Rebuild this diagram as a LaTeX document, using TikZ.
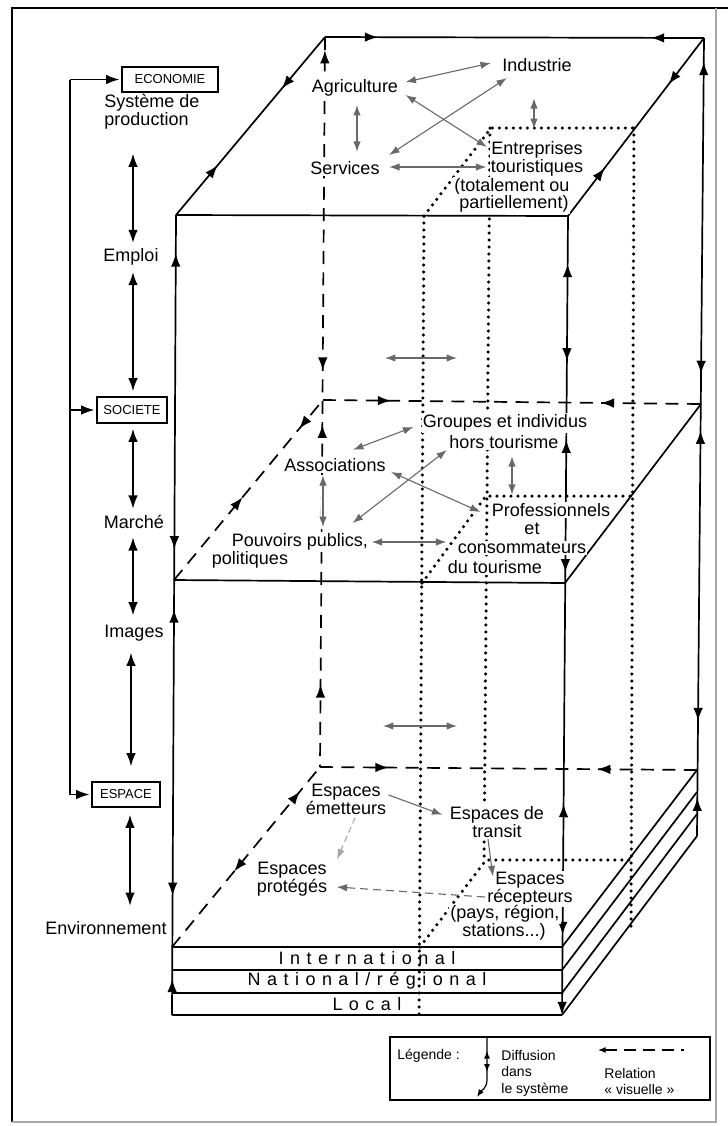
\documentclass[tikz,border=0pt]{standalone}
\usepackage{fontspec}
\setmainfont{Liberation Sans}
\newfontfamily\spaced[LetterSpace=36]{Liberation Sans}
\usetikzlibrary{arrows.meta,decorations.markings,calc}
\definecolor{arrgray}{RGB}{105,105,105}
\tikzset{
  bk/.tip={Latex[length=6.6pt,width=4.8pt]},
  gt/.tip={Latex[length=5.2pt,width=3.7pt]},
  sk/.tip={Latex[length=3.8pt,width=3pt]},
  ln/.style={line width=0.85pt, draw=black},
  dsh/.style={ln, dash pattern=on 6.5pt off 4.2pt},
  dotln/.style={line width=1.75pt, dash pattern=on 0pt off 3.5pt, line cap=round},
  am/.style={postaction={decorate,decoration={markings,mark=at position #1 with {\arrow{Latex[length=6.6pt,width=4.8pt]}}}}},
  ar/.style={postaction={decorate,decoration={markings,mark=at position #1 with {\arrowreversed{Latex[length=6.6pt,width=4.8pt]}}}}},
  lbl/.style={fill=white, inner sep=0.6pt, align=center, font=\fontsize{9}{9}\selectfont},
  lay/.style={inner sep=0pt, font=\spaced\fontsize{9}{9}\selectfont},
  capbox/.style={draw, line width=0.7pt, inner sep=0pt, fill=white, font=\fontsize{6.5}{7}\selectfont},
  garr/.style={draw=arrgray, line width=0.55pt, arrows={gt-gt}},
  sarr/.style={draw=arrgray, line width=0.55pt, arrows={-gt}},
  dbl/.style={ln, arrows={bk-bk}},
  legtxt/.style={inner sep=0.5pt, font=\fontsize{7}{8.2}\selectfont},
}
\begin{document}
\begin{tikzpicture}[x=0.5pt,y=-0.5pt]
\useasboundingbox (0,0) rectangle (728,1126);
\fill[white] (0,0) rectangle (728,1126);
% frame
\draw[line width=1.1pt] (12,1122) -- (12,8) -- (728,8);
\draw[line width=0.6pt, black!35] (716,8) -- (716,1122) -- (12,1122);

% cube corners
\coordinate (F1) at (176,215); \coordinate (F2) at (568,216);
\coordinate (B1) at (325,37);  \coordinate (B2) at (704,38);
\coordinate (M1) at (174,580); \coordinate (M2) at (565,583);
\coordinate (M3) at (323,400); \coordinate (M4) at (701,404);
\coordinate (L1) at (172,947); \coordinate (L2) at (562,947);
\coordinate (L3) at (320,767); \coordinate (L4) at (697,770);
\coordinate (FLb) at (172,1015); \coordinate (FRb) at (562,1015);
\coordinate (BRb) at (697,836);

% dotted tourism column
\draw[dotln] (424,216) -- (491,128) -- (634,128);
\draw[dotln] (422,583) -- (486,496) -- (631,496);
\draw[dotln] (420,947) -- (486,860) -- (629,860);
\draw[dotln] (424,216) -- (419,1017);
\draw[dotln] (490,128) -- (484,860);
\draw[dotln] (634,128) -- (631,926);

% top plane
\draw[ln,am=0.14,ar=0.86] (B1) -- (B2);
\draw[ln,am=0.28,ar=0.71] (F1) -- (B1);
\draw[ln,am=0.27,ar=0.74] (F2) -- (B2);
\draw[ln] (F1) -- (F2);
% verticals
\draw[ln,ar=0.048,am=0.418,ar=0.493,am=0.851,ar=0.955] (F1) -- (FLb);
\draw[ln,ar=0.06,am=0.182,ar=0.28,am=0.446,ar=0.736,am=0.9,-bk] (F2) -- (FRb);
\draw[ln,ar=0.03,am=0.421,ar=0.492,am=0.856,ar=0.952] (B2) -- (BRb);
\draw[dsh,ar=0.018,am=0.457,ar=0.531,ar=0.887] (B1) -- (L3);
% middle plane
\draw[ln] (M1) -- (M2);
\draw[ln] (M2) -- (M4);
\draw[dsh,am=0.18,ar=0.735] (M3) -- (M4);
\draw[dsh,am=0.46,ar=0.84] (M1) -- (M3);
% bottom plane and layers
\draw[ln] (L1) -- (L2);
\draw[dsh,am=0.182,ar=0.735] (L3) -- (L4);
\draw[dsh,ar=0.42,am=0.865] (L1) -- (L3);
\draw[ln] (172,970) -- (562,970);
\draw[ln] (172,993) -- (562,993);
\draw[ln] (FLb) -- (FRb);
\draw[ln] (L2) -- (L4);
\draw[ln] (562,970) -- (697,792);
\draw[ln] (562,993) -- (697,814);
\draw[ln] (FRb) -- (BRb);

% labels top plane
\node[lbl] (agri) at (355,88) {Agriculture};
\node[lbl] (indu) at (537,65) {Industrie};
\node[lbl] (serv) at (345,168) {Services};
\node[lbl] (ent1) at (537,150) {Entreprises};
\node[lbl] (ent2) at (537,168) {touristiques};
\node[lbl] (ent3) at (512,187) {(totalement ou};
\node[lbl] (ent4) at (514,204) {partiellement)};
% middle plane
\node[lbl] (grp1) at (505,423) {Groupes et individus};
\node[lbl] (grp2) at (504,442) {hors tourisme};
\node[lbl] (asso) at (335,465) {Associations};
\node[lbl] (pp1) at (300,542) {Pouvoirs publics,};
\node[lbl] (pp2) at (250,560) {politiques};
\node[lbl] (pro1) at (551,510) {Professionnels};
\node[lbl] (pro2) at (532,529) {et};
\node[lbl] (pro3) at (522,548) {consommateurs};
\node[lbl] (pro4) at (495,567) {du tourisme};
% bottom plane
\node[lbl] (eme) at (346,799) {Espaces\\émetteurs};
\node[lbl] (tra) at (497,822) {Espaces de\\transit};
\node[lbl] (prot) at (292,879) {Espaces\\protégés};
\node[lbl] (rec1) at (530,889) {Espaces\\récepteurs};
\node[lbl] (rec2) at (505,914) {(pays, région,};
\node[lbl] (rec3) at (504,932) {stations...)};
% layers
\node[lay] (intl) at (367,958) {International};
\node[lay] (nat) at (367,981) {National/régional};
\node[lay] (loc) at (367,1004) {Local};

% gray relation arrows
\draw[garr] ($(agri.east)+(6,-6)$) -- ($(indu.west)+(-10,-2)$);
\draw[garr] ($(agri.east)+(6,7)$) -- ($(ent1.west)+(-3,-3)$);
\draw[garr] ($(serv.east)+(8,-13)$) -- ($(indu.west)+(6,13)$);
\draw[garr] ($(serv.east)+(8,-1)$) -- ($(ent2.west)+(-3,-1)$);
\draw[garr] ($(agri.south)+(2,7)$) -- ($(serv.north)+(12,-8)$);
\draw[garr] ($(indu.south)+(-3,25)$) -- ($(ent1.north)+(-3,-11)$);
\coordinate (h1a) at (385,358); \coordinate (h1b) at (457,358);
\draw[garr] (h1a) -- (h1b);
\draw[garr] ($(asso.north)+(18,-7)$) -- ($(grp1.west)+(-8,4)$);
\draw[garr] ($(asso.east)+(4,7)$) -- ($(pro1.west)+(-10,2)$);
\draw[garr] ($(pp1.east)+(-17,-19)$) -- ($(grp2.west)+(-1,8)$);
\draw[garr] ($(pp1.east)+(2,0)$) -- ($(pro3.west)+(-10,-6)$);
\draw[garr, preaction={draw=white, line width=2.5pt, arrows=-}] ($(asso.south)+(-12,2)$) -- ($(pp1.north)+(23,-5)$);
\draw[garr] ($(grp2.south)+(8,6)$) -- ($(pro1.north)+(-39,-7)$);
\coordinate (h2a) at (383,726); \coordinate (h2b) at (457,726);
\draw[garr] (h2a) -- (h2b);
\draw[sarr] ($(eme.east)+(1,-4)$) -- ($(tra.north west)+(-6,10)$);
\draw[sarr, draw=gray!70, dash pattern=on 3pt off 2pt] ($(eme.south)+(9,2)$) -- ($(prot.north)+(45,-1)$);
\draw[sarr] ($(tra.south)+(-9,0)$) -- ($(rec1.north west)+(7,6)$);
\draw[sarr, dash pattern=on 4pt off 2.5pt] ($(rec1.west)+(-1,8)$) -- ($(prot.east)+(8,8)$);

% left column
\node[capbox, minimum width=48pt, minimum height=12.5pt] (eco) at (170,79.5) {ECONOMIE};
\node[capbox, minimum width=35pt, minimum height=13pt] (soc) at (132,410) {SOCIETE};
\node[capbox, minimum width=34pt, minimum height=12.5pt] (esp) at (126,794.5) {ESPACE};
\node[lbl, align=left] (sys) at (152,111.5) {Système de\\production};
\node[lbl] (emploi) at (131,257) {Emploi};
\node[lbl] (marche) at (134,522) {Marché};
\node[lbl] (images) at (134,633) {Images};
\node[lbl] (env) at (106,928) {Environnement};

\draw[dbl] ($(sys.south -| emploi)+(2,23)$) -- ($(emploi.north)+(2,-4)$);
\draw[dbl] ($(emploi.south)+(2,5)$) -- ($(soc.north)+(1,-5)$);
\draw[dbl] ($(soc.south)+(1,5)$) -- ($(marche.north)+(-1,-5)$);
\draw[dbl] ($(marche.south)+(-1,7)$) -- ($(images.north)+(-1,-8)$);
\draw[dbl] ($(images.south)+(-3,10)$) -- ($(esp.north)+(5,-15)$);
\draw[dbl] ($(esp.south)+(4,7)$) -- ($(env.north)+(24,-14)$);

\coordinate (fbt) at (70,79.5); \coordinate (fbb) at (70,794.5);
\draw[ln, line width=0.7pt] (fbt) -- (fbb);
\draw[ln, line width=0.7pt, -bk, shorten >=1pt] (fbt) -- (eco.west);
\draw[ln, line width=0.7pt, -bk, shorten >=1pt] (soc.west -| fbt) -- (soc.west);
\draw[ln, line width=0.7pt, -bk, shorten >=1pt] (fbb) -- (esp.west);

% legend
\node[draw, line width=0.8pt, minimum width=160pt, minimum height=31.5pt, inner sep=0pt] (leg) at (550,1068.5) {};
\node[legtxt, anchor=west] (legt) at (396,1056) {Légende :};
\node[legtxt, anchor=west, align=left] (diff) at (500,1073) {Diffusion\\dans\\le système};
\node[legtxt, anchor=west, align=left] (rel) at (603,1081.5) {Relation\\« visuelle »};
\coordinate (d1) at (487,1037); \coordinate (d2) at (487,1080); \coordinate (d3) at (477,1097);
\draw[ln, line width=0.6pt, arrows={-sk},
  postaction={decorate,decoration={markings,
    mark=at position 0.22 with {\arrowreversed{Latex[length=3.8pt,width=3pt]}},
    mark=at position 0.55 with {\arrow{Latex[length=3.8pt,width=3pt]}}}}]
  (d1) -- (d2) .. controls (487,1088) and (481,1091) .. (d3);
\coordinate (r1) at (598,1050); \coordinate (r2) at (684,1050);
\draw[ln, line width=0.6pt, dash pattern=on 6pt off 3.5pt, arrows={sk-}] (r1) -- (r2);
\end{tikzpicture}
\end{document}
